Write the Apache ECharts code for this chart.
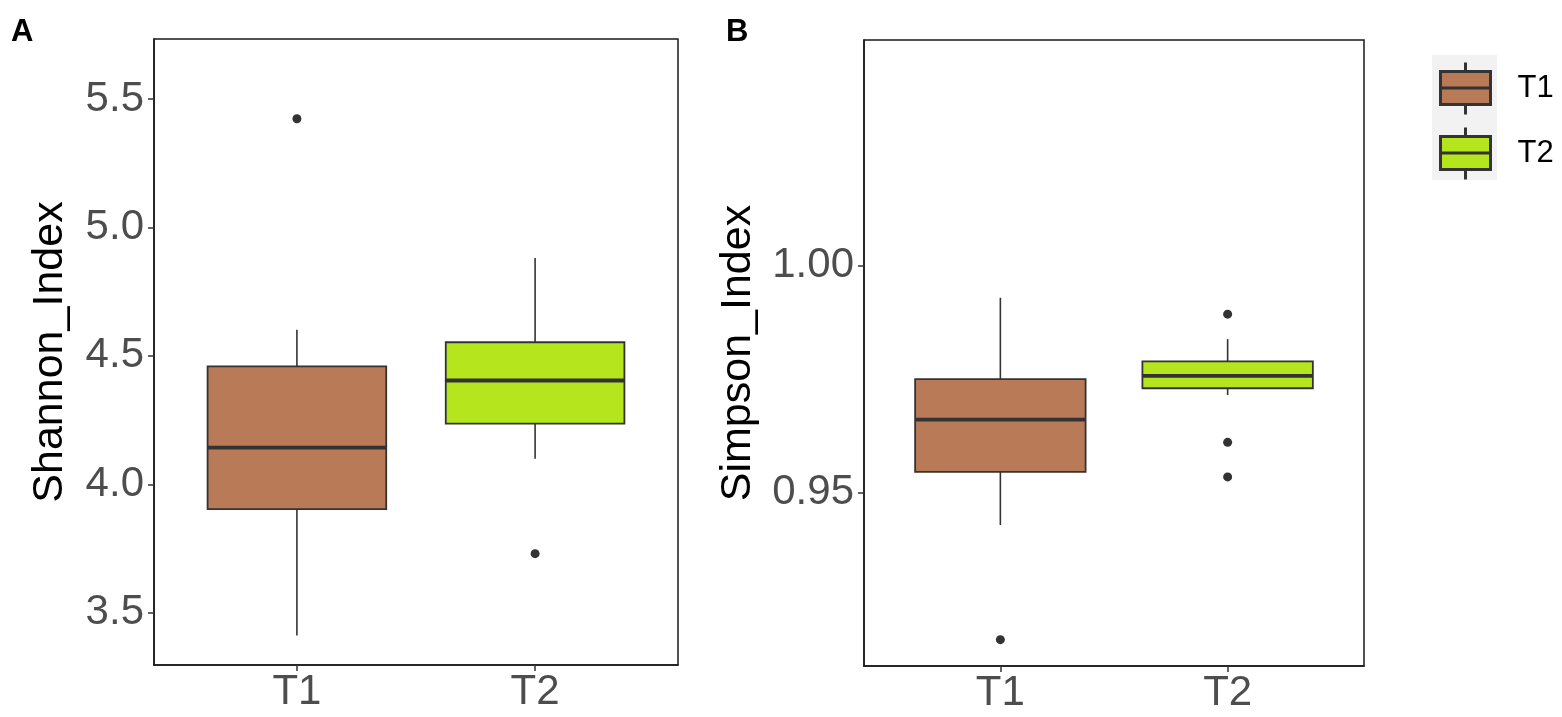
<!DOCTYPE html>
<html>
<head>
<meta charset="utf-8">
<title>Shannon / Simpson</title>
<script src="https://cdn.jsdelivr.net/npm/echarts@6.0.0/dist/echarts.min.js"></script>
<style>
  html, body { margin: 0; padding: 0; background: #fff; }
  #chart { width: 1562px; height: 717px; }
</style>
</head>
<body>
<div id="chart"></div>
<script>
// groups on the x axis
var groups = ['T1', 'T2'];
var groupColors = ['#B97A57', '#B5E61D'];

// box stats: [lower whisker, Q1, median, Q3, upper whisker]
var shannonT1 = [3.411, 3.903, 4.143, 4.459, 4.602];
var shannonT2 = [4.099, 4.236, 4.404, 4.553, 4.881];
var shannonOutT1 = [5.423];
var shannonOutT2 = [3.730];

var simpsonT1 = [0.9429, 0.9546, 0.9661, 0.9750, 0.9929];
var simpsonT2 = [0.9715, 0.9730, 0.9757, 0.9789, 0.9838];
var simpsonOutT1 = [0.9177];
var simpsonOutT2 = [0.9893, 0.9611, 0.9535];

// tick labels
var shannonTicks = [3.5, 4.0, 4.5, 5.0, 5.5];
var simpsonTicks = [0.95, 1.00];

var FONT = '"Liberation Sans", Arial, sans-serif';
var LINE = '#333333';
var BORDER = '#1a1a1a';
var BOX_WIDTH = 0.75;
var keyIcon = 'path://M0,9L50,9L50,42L0,42ZM0,25.5L50,25.5M25,0L25,9M25,42L25,52';

function renderBox(params, api) {
    var x = api.value(0);
    var lo = api.coord([x, api.value(1)]);
    var q1 = api.coord([x, api.value(2)]);
    var md = api.coord([x, api.value(3)]);
    var q3 = api.coord([x, api.value(4)]);
    var hi = api.coord([x, api.value(5)]);
    var half = api.size([BOX_WIDTH, 0])[0] / 2;
    return {
        type: 'group',
        children: [
            { type: 'line', shape: { x1: hi[0], y1: hi[1], x2: q3[0], y2: q3[1] }, style: { stroke: LINE, lineWidth: 1.6 } },
            { type: 'line', shape: { x1: lo[0], y1: lo[1], x2: q1[0], y2: q1[1] }, style: { stroke: LINE, lineWidth: 1.6 } },
            { type: 'rect', shape: { x: q3[0] - half, y: q3[1], width: half * 2, height: q1[1] - q3[1] },
              style: { fill: api.visual('color'), stroke: LINE, lineWidth: 1.8 } },
            { type: 'line', shape: { x1: md[0] - half, y1: md[1], x2: md[0] + half, y2: md[1] }, style: { stroke: LINE, lineWidth: 3.8 } }
        ]
    };
}

function boxSeries(name, idx, stats, color) {
    return {
        name: name,
        type: 'custom',
        xAxisIndex: idx,
        yAxisIndex: idx,
        itemStyle: { color: color },
        encode: { x: 0, y: [1, 2, 3, 4, 5] },
        renderItem: renderBox,
        data: [[groups.indexOf(name) + 1].concat(stats)]
    };
}

function outlierSeries(idx, pos, values) {
    return {
        name: 'outlier',
        type: 'scatter',
        xAxisIndex: idx,
        yAxisIndex: idx,
        symbolSize: 9,
        itemStyle: { color: LINE, opacity: 1 },
        z: 5,
        data: values.map(function(v) { return [pos, v]; })
    };
}

function xAxisFor(idx) {
    return {
        type: 'value',
        gridIndex: idx,
        min: 0.4,
        max: 2.6,
        splitLine: { show: false },
        axisLine: { show: true, onZero: false, lineStyle: { color: BORDER, width: 1.5 } },
        axisTick: { show: true, inside: false, length: 6, customValues: [1, 2], lineStyle: { color: LINE, width: 1.5 } },
        axisLabel: {
            customValues: [1, 2],
            margin: 6,
            color: '#4D4D4D',
            fontFamily: FONT,
            fontSize: 42,
            formatter: function(v) { return groups[Math.round(v) - 1]; }
        }
    };
}

function yAxisFor(idx, name, min, max, ticks, digits, gap) {
    return {
        type: 'value',
        gridIndex: idx,
        min: min,
        max: max,
        name: name,
        nameLocation: 'middle',
        nameGap: gap,
        nameTextStyle: { color: '#000', fontFamily: FONT, fontSize: 43 },
        splitLine: { show: false },
        axisLine: { show: true, lineStyle: { color: BORDER, width: 1.5 } },
        axisTick: { show: true, inside: false, length: 6, customValues: ticks, lineStyle: { color: LINE, width: 1.5 } },
        axisLabel: {
            customValues: ticks,
            margin: 10,
            color: '#4D4D4D',
            fontFamily: FONT,
            fontSize: 42,
            formatter: function(v) { return v.toFixed(digits); }
        }
    };
}

var chart = echarts.init(document.getElementById('chart'), null, { renderer: 'canvas' });

var option = {
    backgroundColor: '#fff',
    animation: false,
    grid: [
        { left: 154, top: 39, width: 524, height: 626, show: true, borderColor: BORDER, borderWidth: 1.5, outerBoundsMode: 'none' },
        { left: 864, top: 40, width: 500, height: 626, show: true, borderColor: BORDER, borderWidth: 1.5, outerBoundsMode: 'none' }
    ],
    xAxis: [xAxisFor(0), xAxisFor(1)],
    yAxis: [
        yAxisFor(0, 'Shannon_Index', 3.2964, 5.7336, shannonTicks, 1, 82),
        yAxisFor(1, 'Simpson_Index', 0.9119, 1.0496, simpsonTicks, 2, 104)
    ],
    legend: {
        orient: 'vertical',
        left: 1439,
        top: 61,
        padding: 0,
        itemWidth: 50,
        itemHeight: 52,
        itemGap: 10,
        selectedMode: false,
        itemStyle: { borderColor: LINE, borderWidth: 3 },
        textStyle: { color: '#000', fontFamily: FONT, fontSize: 31, padding: [0, 0, 0, 22] },
        data: [
            { name: 'T1', icon: keyIcon },
            { name: 'T2', icon: keyIcon }
        ]
    },
    graphic: [
        { type: 'rect', left: 1432, top: 55, shape: { width: 65, height: 125 }, style: { fill: '#F2F2F2' }, z: -1 },
        { type: 'text', left: 11, top: 17, style: { text: 'A', fontFamily: FONT, fontWeight: 'bold', fontSize: 31, fill: '#000' } },
        { type: 'text', left: 726, top: 17, style: { text: 'B', fontFamily: FONT, fontWeight: 'bold', fontSize: 31, fill: '#000' } }
    ],
    series: [
        boxSeries('T1', 0, shannonT1, groupColors[0]),
        boxSeries('T2', 0, shannonT2, groupColors[1]),
        outlierSeries(0, 1, shannonOutT1),
        outlierSeries(0, 2, shannonOutT2),
        boxSeries('T1', 1, simpsonT1, groupColors[0]),
        boxSeries('T2', 1, simpsonT2, groupColors[1]),
        outlierSeries(1, 1, simpsonOutT1),
        outlierSeries(1, 2, simpsonOutT2)
    ]
};

chart.setOption(option);
</script>
</body>
</html>
